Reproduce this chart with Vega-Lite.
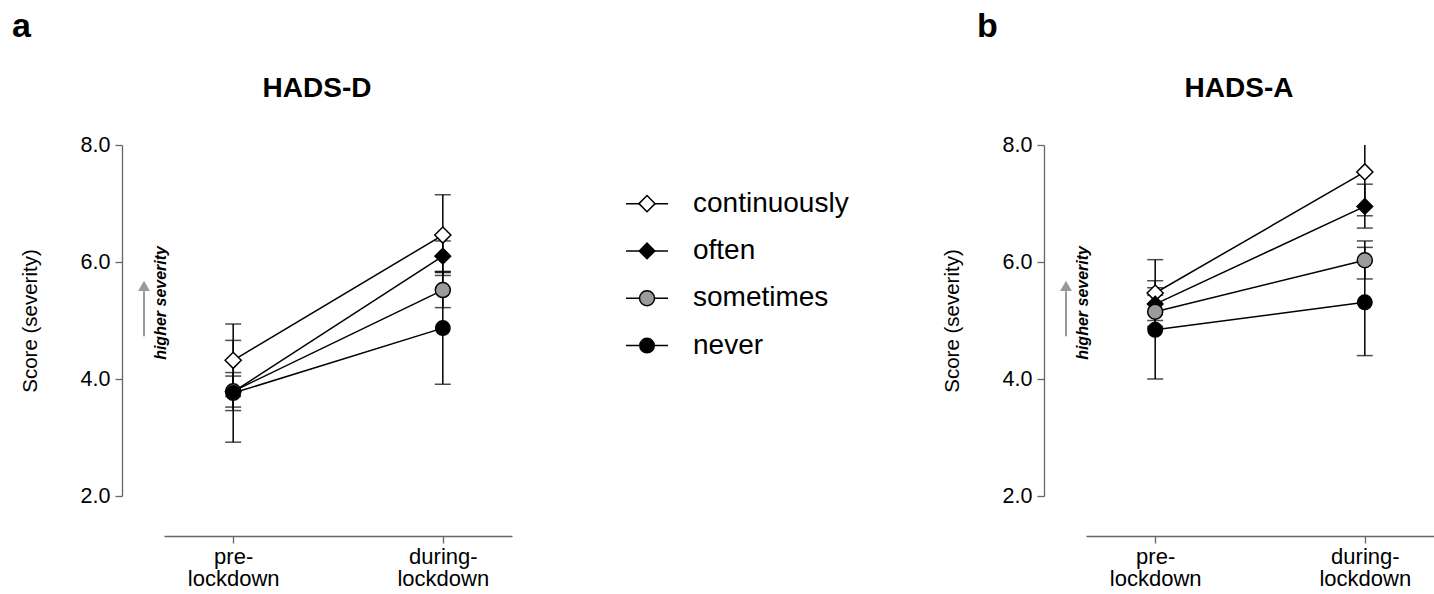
{
  "$schema": "https://vega.github.io/schema/vega-lite/v6.json",
  "background": "white",
  "padding": {"left": 12, "top": 10, "right": 0, "bottom": 0},
  "config": {
    "font": "Liberation Sans",
    "view": {"stroke": null},
    "axis": {"labelFont": "Liberation Sans", "titleFont": "Liberation Sans"},
    "title": {"font": "Liberation Sans"}
  },
  "datasets": {
    "hadsD": [
      {"group": "continuously", "time": 0, "mean": 4.32, "lo": 3.70, "hi": 4.94},
      {"group": "often", "time": 0, "mean": 3.78, "lo": 3.52, "hi": 4.05},
      {"group": "sometimes", "time": 0, "mean": 3.79, "lo": 3.46, "hi": 4.11},
      {"group": "never", "time": 0, "mean": 3.76, "lo": 2.92, "hi": 4.66},
      {"group": "continuously", "time": 1, "mean": 6.46, "lo": 5.77, "hi": 7.15},
      {"group": "often", "time": 1, "mean": 6.10, "lo": 5.84, "hi": 6.36},
      {"group": "sometimes", "time": 1, "mean": 5.52, "lo": 5.22, "hi": 5.82},
      {"group": "never", "time": 1, "mean": 4.87, "lo": 3.91, "hi": 5.83}
    ],
    "hadsA": [
      {"group": "continuously", "time": 0, "mean": 5.47, "lo": 4.90, "hi": 6.04},
      {"group": "often", "time": 0, "mean": 5.28, "lo": 5.00, "hi": 5.56},
      {"group": "sometimes", "time": 0, "mean": 5.15, "lo": 4.87, "hi": 5.43},
      {"group": "never", "time": 0, "mean": 4.84, "lo": 4.00, "hi": 5.68},
      {"group": "continuously", "time": 1, "mean": 7.54, "lo": 6.79, "hi": 8.29},
      {"group": "often", "time": 1, "mean": 6.95, "lo": 6.58, "hi": 7.33},
      {"group": "sometimes", "time": 1, "mean": 6.03, "lo": 5.71, "hi": 6.36},
      {"group": "never", "time": 1, "mean": 5.31, "lo": 4.40, "hi": 6.25}
    ],
    "legend": [
      {"group": "continuously"},
      {"group": "often"},
      {"group": "sometimes"},
      {"group": "never"}
    ],
    "note": [
      {"label": "higher severity"}
    ]
  },
  "hconcat": [
    {
      "title": {"text": "a", "anchor": "start", "frame": "bounds", "fontSize": 34, "fontWeight": "bold", "color": "black", "offset": 63, "dx": -8, "baseline": "alphabetic"},
      "width": 42,
      "height": 351,
      "data": {"name": "note"},
      "layer": [
        {"mark": {"type": "rule", "color": "#999999", "strokeWidth": 2},
          "encoding": {
            "x": {"datum": 0.524, "type": "quantitative", "scale": {"domain": [0, 1], "nice": false, "zero": false}, "axis": null},
            "y": {"datum": 4.73, "type": "quantitative", "scale": {"domain": [2, 8], "nice": false, "zero": false},
              "axis": {"values": [2, 4, 6, 8], "format": ".1f", "offset": 0, "grid": false, "tickSize": 7, "domainColor": "#666", "tickColor": "#666", "domainWidth": 1.3, "tickWidth": 1.3, "labelFontSize": 21.5, "labelPadding": 5, "labelColor": "black", "title": "Score (severity)", "titleFontSize": 20.5, "titleFontWeight": "normal", "titleColor": "black", "titlePadding": 40}},
            "y2": {"datum": 5.5}}},
        {"mark": {"type": "point", "shape": "triangle-up", "filled": true, "color": "#999999", "opacity": 1, "size": 140},
          "encoding": {"x": {"datum": 0.524, "type": "quantitative"}, "y": {"datum": 5.59, "type": "quantitative"}}},
        {"mark": {"type": "text", "angle": 270, "fontSize": 16, "fontWeight": "bold", "fontStyle": "italic", "align": "center", "baseline": "middle", "color": "black"},
          "encoding": {"x": {"datum": 0.929, "type": "quantitative"}, "y": {"datum": 5.3, "type": "quantitative"}, "text": {"field": "label"}}}
      ]
    },
    {
      "title": {"text": "HADS-D", "anchor": "middle", "frame": "group", "fontSize": 28, "fontWeight": "bold", "color": "black", "offset": 20, "dx": -21, "baseline": "alphabetic"},
      "width": 348,
      "height": 351,
      "data": {"name": "hadsD"},
      "encoding": {
        "x": {"field": "time", "type": "quantitative",
          "scale": {"domain": [-0.33, 1.33], "nice": false, "zero": false},
          "axis": {"values": [0, 1], "labelExpr": "datum.value == 0 ? ['pre-', 'lockdown'] : ['during-', 'lockdown']", "offset": 40, "grid": false, "tickSize": 7, "domainColor": "#666", "tickColor": "#666", "domainWidth": 1.3, "tickWidth": 1.3, "labelFontSize": 22, "labelLineHeight": 22.5, "labelPadding": 3, "labelColor": "black", "title": null}},
        "y": {"field": "mean", "type": "quantitative",
          "scale": {"domain": [2, 8], "nice": false, "zero": false}, "axis": null}
      },
      "layer": [
        {"mark": {"type": "line", "color": "black", "strokeWidth": 1.5}, "encoding": {"detail": {"field": "group"}}},
        {"mark": {"type": "rule", "color": "black", "strokeWidth": 1.5, "clip": true}, "encoding": {"y": {"field": "lo", "type": "quantitative"}, "y2": {"field": "hi"}}},
        {"mark": {"type": "tick", "orient": "horizontal", "color": "black", "thickness": 1.5, "size": 16, "clip": true}, "encoding": {"y": {"field": "lo", "type": "quantitative"}}},
        {"mark": {"type": "tick", "orient": "horizontal", "color": "black", "thickness": 1.5, "size": 16, "clip": true}, "encoding": {"y": {"field": "hi", "type": "quantitative"}}},
        {"mark": {"type": "point", "filled": true, "stroke": "black", "strokeWidth": 1.5, "opacity": 1, "fillOpacity": 1},
          "encoding": {
            "shape": {"field": "group", "type": "nominal", "scale": {"domain": ["continuously", "often", "sometimes", "never"], "range": ["diamond", "diamond", "circle", "circle"]}, "legend": null},
            "fill": {"field": "group", "type": "nominal", "scale": {"domain": ["continuously", "often", "sometimes", "never"], "range": ["white", "black", "#9b9b9b", "black"]}, "legend": null},
            "size": {"field": "group", "type": "ordinal", "scale": {"domain": ["continuously", "often", "sometimes", "never"], "range": [260, 210, 180, 170]}, "legend": null}
          }}
      ]
    },
    {
      "width": 532,
      "height": 236.5,
      "data": {"name": "legend"},
      "encoding": {
        "y": {"field": "group", "type": "nominal", "scale": {"type": "point", "padding": 1, "align": 0.62, "domain": ["continuously", "often", "sometimes", "never"]}, "axis": null}
      },
      "layer": [
        {"mark": {"type": "rule", "color": "black", "strokeWidth": 1.5},
          "encoding": {"x": {"datum": 2.143, "type": "quantitative", "scale": {"domain": [0, 10], "nice": false, "zero": false}, "axis": null}, "x2": {"datum": 2.932}}},
        {"mark": {"type": "point", "filled": true, "stroke": "black", "strokeWidth": 1.5, "opacity": 1, "fillOpacity": 1},
          "encoding": {
            "x": {"datum": 2.538, "type": "quantitative", "scale": {"domain": [0, 10], "nice": false, "zero": false}, "axis": null},
            "shape": {"field": "group", "type": "nominal", "scale": {"domain": ["continuously", "often", "sometimes", "never"], "range": ["diamond", "diamond", "circle", "circle"]}, "legend": null},
            "fill": {"field": "group", "type": "nominal", "scale": {"domain": ["continuously", "often", "sometimes", "never"], "range": ["white", "black", "#9b9b9b", "black"]}, "legend": null},
            "size": {"field": "group", "type": "ordinal", "scale": {"domain": ["continuously", "often", "sometimes", "never"], "range": [260, 210, 180, 170]}, "legend": null}
          }},
        {"mark": {"type": "text", "align": "left", "baseline": "middle", "fontSize": 28, "color": "black"},
          "encoding": {"x": {"datum": 3.402, "type": "quantitative", "scale": {"domain": [0, 10], "nice": false, "zero": false}, "axis": null}, "text": {"field": "group"}}}
      ]
    },
    {
      "title": {"text": "b", "anchor": "start", "frame": "bounds", "fontSize": 34, "fontWeight": "bold", "color": "black", "offset": 63, "dx": 35, "baseline": "alphabetic"},
      "width": 42,
      "height": 351,
      "data": {"name": "note"},
      "layer": [
        {"mark": {"type": "rule", "color": "#999999", "strokeWidth": 2},
          "encoding": {
            "x": {"datum": 0.524, "type": "quantitative", "scale": {"domain": [0, 1], "nice": false, "zero": false}, "axis": null},
            "y": {"datum": 4.73, "type": "quantitative", "scale": {"domain": [2, 8], "nice": false, "zero": false},
              "axis": {"values": [2, 4, 6, 8], "format": ".1f", "offset": 0, "grid": false, "tickSize": 7, "domainColor": "#666", "tickColor": "#666", "domainWidth": 1.3, "tickWidth": 1.3, "labelFontSize": 21.5, "labelPadding": 5, "labelColor": "black", "title": "Score (severity)", "titleFontSize": 20.5, "titleFontWeight": "normal", "titleColor": "black", "titlePadding": 40}},
            "y2": {"datum": 5.5}}},
        {"mark": {"type": "point", "shape": "triangle-up", "filled": true, "color": "#999999", "opacity": 1, "size": 140},
          "encoding": {"x": {"datum": 0.524, "type": "quantitative"}, "y": {"datum": 5.59, "type": "quantitative"}}},
        {"mark": {"type": "text", "angle": 270, "fontSize": 16, "fontWeight": "bold", "fontStyle": "italic", "align": "center", "baseline": "middle", "color": "black"},
          "encoding": {"x": {"datum": 0.929, "type": "quantitative"}, "y": {"datum": 5.3, "type": "quantitative"}, "text": {"field": "label"}}}
      ]
    },
    {
      "title": {"text": "HADS-A", "anchor": "middle", "frame": "group", "fontSize": 28, "fontWeight": "bold", "color": "black", "offset": 20, "dx": -21, "baseline": "alphabetic"},
      "width": 348,
      "height": 351,
      "data": {"name": "hadsA"},
      "encoding": {
        "x": {"field": "time", "type": "quantitative",
          "scale": {"domain": [-0.33, 1.33], "nice": false, "zero": false},
          "axis": {"values": [0, 1], "labelExpr": "datum.value == 0 ? ['pre-', 'lockdown'] : ['during-', 'lockdown']", "offset": 40, "grid": false, "tickSize": 7, "domainColor": "#666", "tickColor": "#666", "domainWidth": 1.3, "tickWidth": 1.3, "labelFontSize": 22, "labelLineHeight": 22.5, "labelPadding": 3, "labelColor": "black", "title": null}},
        "y": {"field": "mean", "type": "quantitative",
          "scale": {"domain": [2, 8], "nice": false, "zero": false}, "axis": null}
      },
      "layer": [
        {"mark": {"type": "line", "color": "black", "strokeWidth": 1.5}, "encoding": {"detail": {"field": "group"}}},
        {"mark": {"type": "rule", "color": "black", "strokeWidth": 1.5, "clip": true}, "encoding": {"y": {"field": "lo", "type": "quantitative"}, "y2": {"field": "hi"}}},
        {"mark": {"type": "tick", "orient": "horizontal", "color": "black", "thickness": 1.5, "size": 16, "clip": true}, "encoding": {"y": {"field": "lo", "type": "quantitative"}}},
        {"mark": {"type": "tick", "orient": "horizontal", "color": "black", "thickness": 1.5, "size": 16, "clip": true}, "encoding": {"y": {"field": "hi", "type": "quantitative"}}},
        {"mark": {"type": "point", "filled": true, "stroke": "black", "strokeWidth": 1.5, "opacity": 1, "fillOpacity": 1},
          "encoding": {
            "shape": {"field": "group", "type": "nominal", "scale": {"domain": ["continuously", "often", "sometimes", "never"], "range": ["diamond", "diamond", "circle", "circle"]}, "legend": null},
            "fill": {"field": "group", "type": "nominal", "scale": {"domain": ["continuously", "often", "sometimes", "never"], "range": ["white", "black", "#9b9b9b", "black"]}, "legend": null},
            "size": {"field": "group", "type": "ordinal", "scale": {"domain": ["continuously", "often", "sometimes", "never"], "range": [260, 210, 180, 170]}, "legend": null}
          }}
      ]
    }
  ],
  "spacing": 0,
  "bounds": "flush"
}
